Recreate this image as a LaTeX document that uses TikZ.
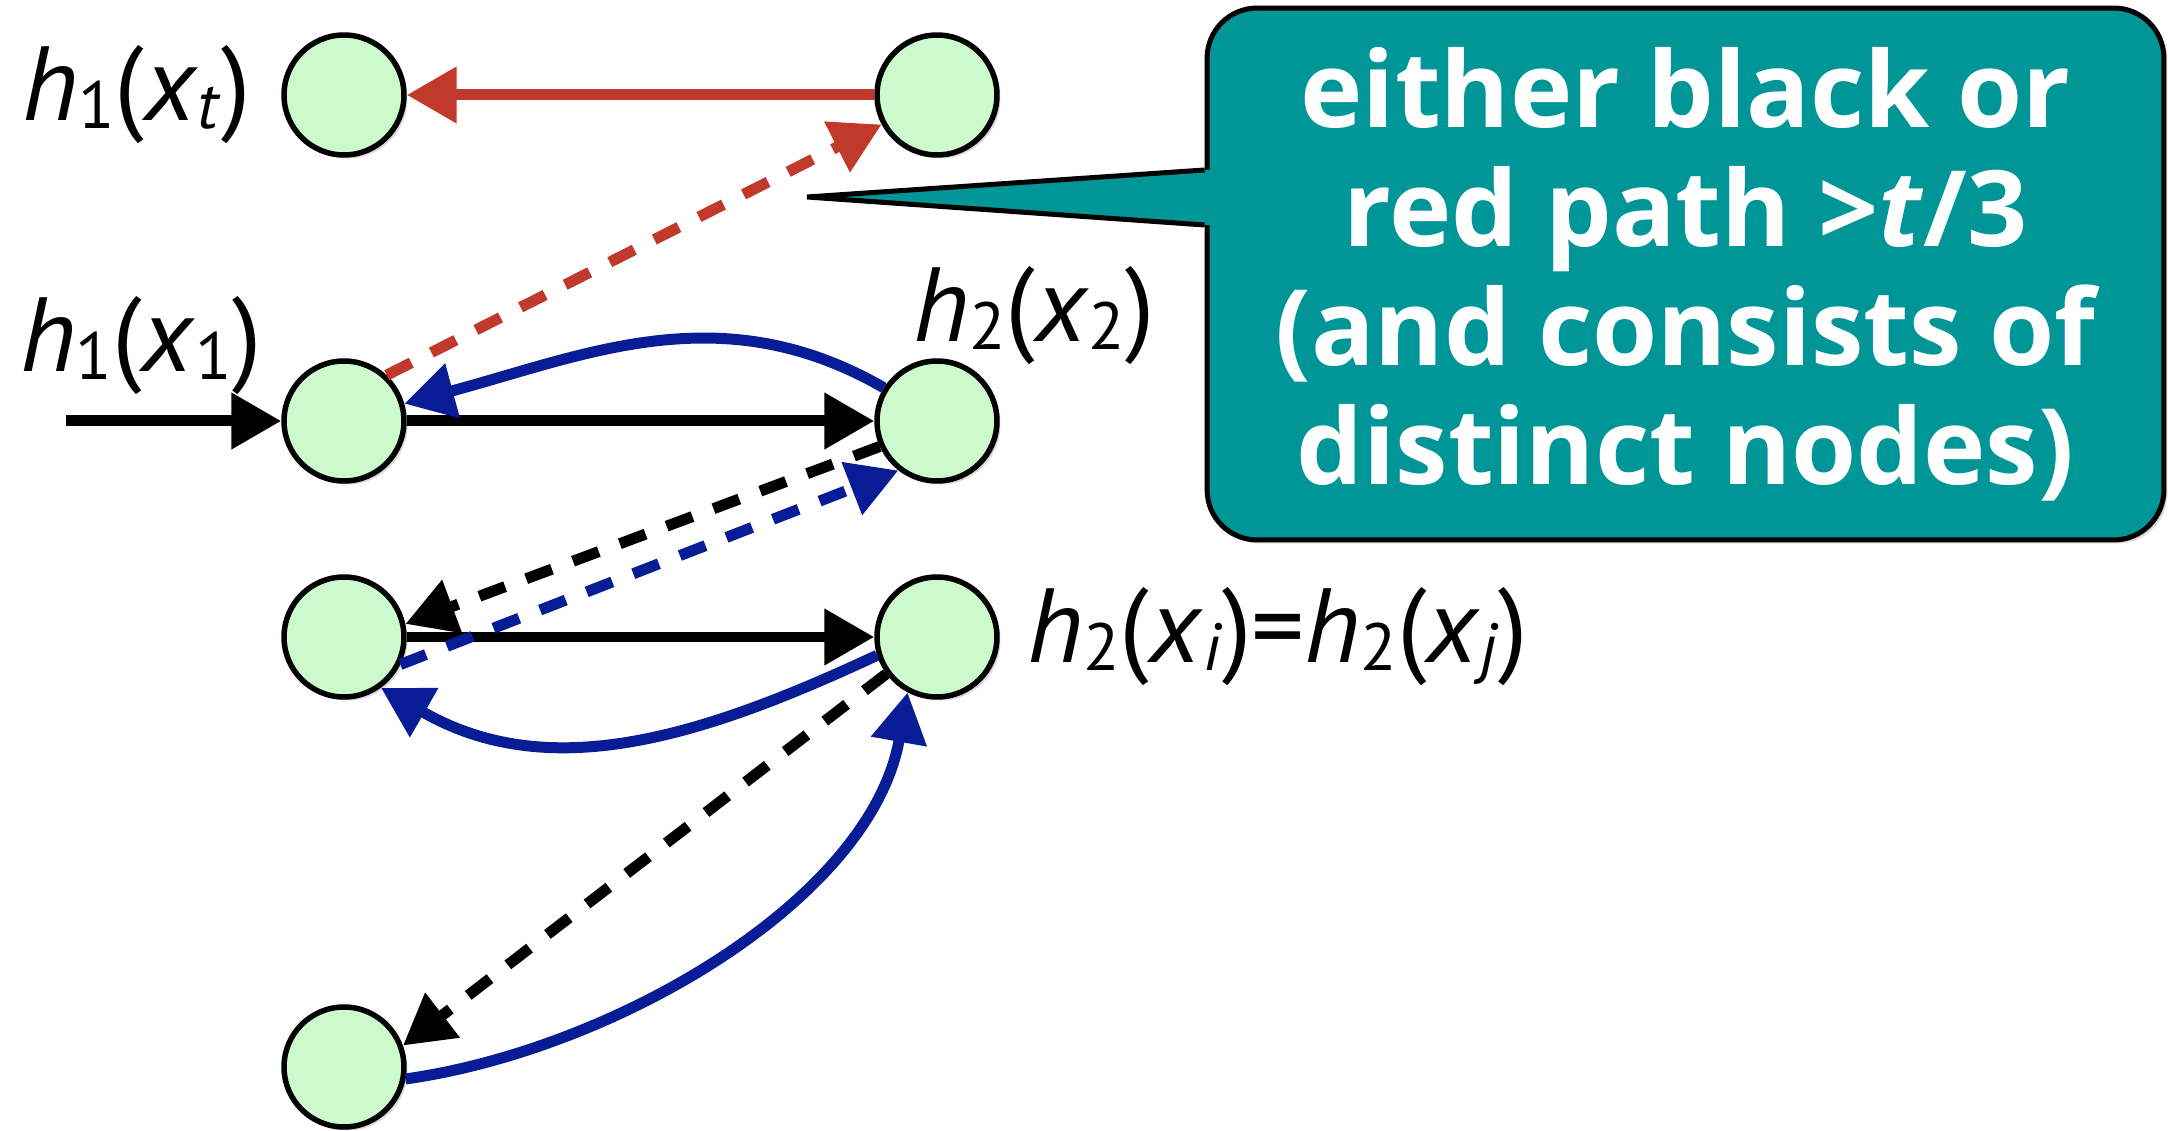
\documentclass[tikz,border=0pt]{standalone}
\usepackage{fontspec}
\setmainfont{PT Sans}
\newfontfamily\notefont{Open Sans}
\usepackage{tikz}
\usetikzlibrary{positioning, arrows.meta, shadows, calc}
\definecolor{nodeGreen}{RGB}{204,250,204}
\definecolor{hashRed}{RGB}{192,57,43}
\definecolor{hashBlue}{RGB}{8,28,150}
\definecolor{noteTeal}{RGB}{0,150,152}
\newcommand{\lowsub}[1]{\raisebox{-4.5pt}{\fontsize{38}{38}\selectfont #1}}
\newcommand{\hashof}[2]{\textit{h}\lowsub{#1}(\textit{x}\lowsub{#2})}

\begin{document}
\begin{tikzpicture}[
  x=0.02cm, y=-0.02cm,
  val/.style={circle, draw=black, line width=0.11cm, fill=nodeGreen, minimum size=2.4cm, inner sep=0pt,
              drop shadow={opacity=0.3, shadow xshift=0.07cm, shadow yshift=-0.07cm}},
  lbl/.style={font=\fontsize{60}{60}\selectfont, inner sep=0pt},
  link/.style={line width=0.22cm, -{Triangle[length=1cm, width=1.08cm]}},
  dashlink/.style={link, dash pattern=on 0.55cm off 0.45cm},
  note/.style={rectangle, rounded corners=1cm, draw=black, line width=0.1cm, fill=noteTeal,
               text=white, align=center, minimum width=19.14cm, minimum height=10.64cm,
               font=\notefont\bfseries\fontsize{60}{67.7}\selectfont,
               drop shadow={opacity=0.3, shadow xshift=0.07cm, shadow yshift=-0.07cm}},
]
  \useasboundingbox (0,0) rectangle (2168,1131);

  % hash values
  \node[val] (t1) at (344,95) {};
  \node[val] (t2) at (937,95) {};
  \node[val] (a1) at (344,421) {};
  \node[val] (a2) at (937,421) {};
  \node[val] (b1) at (344,637) {};
  \node[val] (b2) at (937,637) {};
  \node[val] (c1) at (344,1067) {};

  \node[lbl, left=0.6cm of t1] (lt1) {\hashof{1}{\textit{t}}};
  \node[lbl, anchor=base east] (la1) at (262,372) {\hashof{1}{1}};
  \node[lbl, anchor=base west] (la2) at (913,342) {\hashof{2}{2}};
  \node[lbl, right=0.55cm of b2] (lb2) {\hashof{2}{\textit{i}}=\hashof{2}{\textit{j}}};

  \coordinate (entry) at (66,421);
  \draw[link] (entry) -- (a1);
  \draw[link] (a1) -- (a2);
  \draw[link] (b1) -- (b2);
  \draw[dashlink] (a2.204) -- (b1.12);
  \draw[dashlink] (b2.216) -- (c1.20);
  \draw[link, hashRed] (t2) -- (t1);
  \draw[dashlink, hashRed] (a1.47) -- (t2.208);
  \draw[link, hashBlue] (a2.148) to[out=150, in=15] (a1.16);
  \draw[dashlink, hashBlue] (b1.334) -- (a2.232);
  \draw[link, hashBlue] (b2.197) to[out=205, in=-30] (b1.306);
  \draw[link, hashBlue] (c1.349) to[out=8, in=-100, looseness=0.85] (b2.242);

  % callout
  \node[note] (note) at (1685.5,274) {either black or\\ red path >\textit{t}/3\\ (and consists of\\ distinct nodes)};
  \coordinate (gap) at (807,197);
  \coordinate (tailtop) at ($(note.west)+(0,-104)$);
  \coordinate (tailbot) at ($(note.west)+(0,-49)$);
  \fill[noteTeal] (tailtop) -- (gap) -- (tailbot) -- ++(8,0) -- ($(tailtop)+(8,0)$) -- cycle;
  \draw[line width=0.1cm] (tailtop) -- (gap) -- (tailbot);
\end{tikzpicture}
\end{document}
